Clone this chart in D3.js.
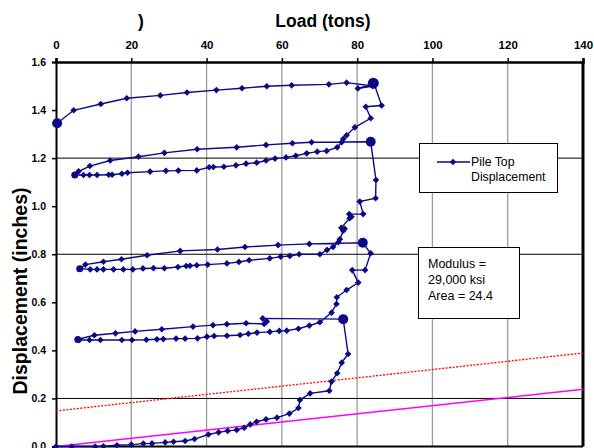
<!DOCTYPE html>
<html><head><meta charset="utf-8">
<script src="https://cdn.jsdelivr.net/npm/d3@7"></script>
<style>
html,body{margin:0;padding:0;background:#fff;}
svg{display:block;font-family:"Liberation Sans",Arial,sans-serif;}
</style></head>
<body>
<svg id="chart" width="594" height="448"></svg>
<script>
// ---- data ----
const xTicks = [0, 20, 40, 60, 80, 100, 120, 140];
const yTicks = [0.0, 0.2, 0.4, 0.6, 0.8, 1.0, 1.2, 1.4, 1.6];
const yGridDark = [0.2, 0.8, 1.2];
const xTitle = "Load (tons)";
const yTitle = "Displacement (inches)";
const legendLabel = ["Pile Top", "Displacement"];
const noteLines = ["Modulus =", "29,000 ksi", "Area = 24.4"];

// Pile top load (tons) and displacement (inches), in test order
const load = [
 0,4.2,10.4,12.6,16.2,20,23.2,25.5,29,31.2,34.3,36.8,40.5,43.2,45.6,48,50,51.6,53.3,55.8,58.7,62,64.4,64.8,67.5,72.6,73.2,74.7,75.9,77.6,76.3,
 54.9,56,55.3,50.5,45.4,41.7,36.4,28.1,21,15.8,10.2,5.8,
 6.2,8.9,11.8,17.5,20.2,24,26.8,28.5,31.9,34.3,37.6,40.1,42,45.4,48.9,51.1,53.4,56.8,59.3,61.3,64.4,67.3,70.1,73.2,74.5,74.6,77.2,80.3,78.7,82.1,83.6,81.5,
 67.3,59,50.2,42.9,33,24.2,17.4,12.6,7.8,6.4,
 9.1,10.9,12.6,15.3,17.9,20.4,23.1,25.9,28.8,32.4,34.6,35.6,37.4,40.3,45.4,48.6,51.3,56.8,59.7,62.1,64.6,70.1,72,73.6,75,75.4,76.3,76.7,75.8,78,78.5,77.9,81.6,80.7,84.9,85,83.6,
 67.9,62.8,55.8,48,37.5,28.8,21.9,14.4,9,6,4.9,
 7.3,8.9,10.9,14,14.9,17.5,19,25,29.2,32.5,37.4,40.7,41.8,44.6,47.8,50.5,53.3,55.8,58.2,61.1,63.7,66.6,69.4,71.9,74.7,75.9,76.3,77.2,79.4,83.6,82.3,86.5,84.5,80.2,84.2,77.2,
 72.5,62.6,56,49.4,42.6,34.8,27.7,18.8,11.9,4.7,0.3
];
const displacement = [
 0,0,0,0.001,0.005,0.008,0.012,0.013,0.017,0.02,0.023,0.031,0.05,0.059,0.065,0.069,0.078,0.092,0.103,0.113,0.12,0.137,0.16,0.194,0.221,0.232,0.27,0.305,0.349,0.385,0.53,
 0.533,0.52,0.51,0.513,0.509,0.505,0.499,0.488,0.479,0.471,0.463,0.446,
 0.443,0.443,0.443,0.443,0.443,0.444,0.446,0.447,0.449,0.449,0.45,0.457,0.46,0.461,0.464,0.469,0.474,0.477,0.481,0.482,0.49,0.503,0.517,0.557,0.593,0.621,0.651,0.682,0.734,0.734,0.804,0.848,
 0.843,0.838,0.83,0.82,0.814,0.796,0.779,0.769,0.757,0.74,
 0.737,0.737,0.737,0.737,0.737,0.737,0.741,0.742,0.742,0.747,0.751,0.752,0.754,0.757,0.762,0.768,0.775,0.783,0.79,0.793,0.8,0.8,0.818,0.83,0.85,0.862,0.898,0.906,0.91,0.95,0.956,0.967,0.967,1.019,1.033,1.109,1.268,
 1.266,1.262,1.255,1.245,1.237,1.222,1.206,1.19,1.167,1.145,1.13,
 1.13,1.13,1.13,1.131,1.131,1.135,1.139,1.144,1.147,1.148,1.149,1.162,1.163,1.164,1.17,1.177,1.181,1.19,1.198,1.203,1.21,1.22,1.227,1.23,1.245,1.266,1.28,1.295,1.328,1.366,1.414,1.419,1.51,1.49,1.5,1.514,
 1.507,1.503,1.499,1.491,1.483,1.473,1.461,1.449,1.425,1.399,1.345
];
// load-hold points (many readings at one spot)
const holdLoad = [76.3, 81.5, 83.6, 84.3, 0.3, 5.8, 6.3, 5.0];
const holdDisp = [0.53, 0.848, 1.268, 1.512, 1.345, 0.445, 0.74, 1.13];
const holdSize = [5, 5, 5, 5.5, 5, 3.5, 3.5, 3.5];

// reference lines: [load, displacement] end points
const offsetLine = [[0, 0.148], [140, 0.389]];
const elasticLine = [[0, 0.0], [140, 0.238]];

// ---- drawing ----
const svg = d3.select("#chart");
const x = d3.scaleLinear().domain([0, 140]).range([56, 583]);
const y = d3.scaleLinear().domain([0, 1.6]).range([446.5, 62]);
const navy = "#0a0a84";

svg.append("rect").attr("width", 594).attr("height", 448).attr("fill", "#fff");

// vertical grid
svg.append("g").selectAll("line").data(xTicks.filter(d => d > 0 && d < 140)).join("line")
  .attr("x1", d => x(d)).attr("x2", d => x(d)).attr("y1", y(1.6)).attr("y2", y(0))
  .attr("stroke", "#9a9a9a").attr("stroke-width", 1.3);
// horizontal grid
svg.append("g").selectAll("line").data(yGridDark).join("line")
  .attr("x1", x(0)).attr("x2", x(140)).attr("y1", d => y(d)).attr("y2", d => y(d))
  .attr("stroke", "#000").attr("stroke-width", 1);

// axes
const topAxis = svg.append("g").attr("transform", `translate(0,${y(1.6)})`)
  .call(d3.axisTop(x).tickValues(xTicks).tickSize(4).tickPadding(9).tickFormat(d3.format("d")));
topAxis.select(".domain").attr("stroke-width", 2.5);
topAxis.selectAll(".tick line").attr("stroke-width", 1.5);
topAxis.selectAll("text").attr("font-size", 11.5).attr("font-weight", "bold").attr("fill", "#000")
  .attr("font-family", "Liberation Sans, Arial, sans-serif");

const leftAxis = svg.append("g").attr("transform", `translate(${x(0)},0)`)
  .call(d3.axisLeft(y).tickValues(yTicks).tickSize(4).tickPadding(6).tickFormat(d3.format(".1f")));
leftAxis.select(".domain").attr("stroke-width", 2);
leftAxis.selectAll(".tick line").attr("stroke-width", 1.5);
leftAxis.selectAll("text").attr("font-size", 10.5).attr("font-weight", "bold").attr("fill", "#000")
  .attr("font-family", "Liberation Sans, Arial, sans-serif");

// bottom & right frame
svg.append("line").attr("x1", x(0)).attr("x2", x(140)).attr("y1", y(0)).attr("y2", y(0))
  .attr("stroke", "#000").attr("stroke-width", 2);
svg.append("line").attr("x1", x(140)).attr("x2", x(140)).attr("y1", y(1.6) - 1).attr("y2", y(0))
  .attr("stroke", "#000").attr("stroke-width", 3);

// reference lines
const ln = d3.line().x(d => x(d[0])).y(d => y(d[1]));
svg.append("path").attr("d", ln(offsetLine)).attr("fill", "none")
  .attr("stroke", "#ff0000").attr("stroke-width", 1.3).attr("stroke-dasharray", "2,1.5");
svg.append("path").attr("d", ln(elasticLine)).attr("fill", "none")
  .attr("stroke", "#ff00ff").attr("stroke-width", 1.6);

// data series
const pts = load.map((d, i) => [d, displacement[i]]);
svg.append("path").attr("d", ln(pts)).attr("fill", "none")
  .attr("stroke", navy).attr("stroke-width", 1.4);
const diamond = d3.symbol().type(d3.symbolSquare).size(22);
svg.append("g").selectAll("path").data(pts).join("path")
  .attr("d", diamond)
  .attr("transform", d => `translate(${x(d[0])},${y(d[1])}) rotate(45)`)
  .attr("fill", navy);
svg.append("g").selectAll("circle").data(holdLoad.map((d, i) => [d, holdDisp[i], holdSize[i]])).join("circle")
  .attr("cx", d => x(d[0])).attr("cy", d => y(d[1])).attr("r", d => d[2]).attr("fill", navy);

// legend
const lg = svg.append("g");
lg.append("rect").attr("x", 419.5).attr("y", 143.5).attr("width", 138).attr("height", 49)
  .attr("fill", "#fff").attr("stroke", "#000").attr("stroke-width", 1);
lg.append("line").attr("x1", 437).attr("x2", 470).attr("y1", 162).attr("y2", 162)
  .attr("stroke", navy).attr("stroke-width", 1.4);
lg.append("path").attr("d", diamond).attr("transform", "translate(453,162) rotate(45)").attr("fill", navy);
lg.selectAll("text").data(legendLabel).join("text")
  .attr("x", 471).attr("y", (d, i) => 166 + i * 14.5).text(d => d)
  .attr("font-size", 12.3).attr("fill", "#000");

// note box
const nb = svg.append("g");
nb.append("rect").attr("x", 418.5).attr("y", 247.5).attr("width", 101).attr("height", 71)
  .attr("fill", "#fff").attr("stroke", "#000").attr("stroke-width", 1);
nb.selectAll("text").data(noteLines).join("text")
  .attr("x", 428).attr("y", (d, i) => 268 + i * 16).text(d => d)
  .attr("font-size", 12.5).attr("fill", "#000");

// titles
svg.append("text").attr("x", 323).attr("y", 27).attr("text-anchor", "middle")
  .attr("font-size", 17.5).attr("font-weight", "bold").text(xTitle);
svg.append("text").attr("x", 141).attr("y", 27).attr("text-anchor", "middle")
  .attr("font-size", 17.5).attr("font-weight", "bold").text(")");
svg.append("text").attr("transform", "translate(27,291) rotate(-90)").attr("text-anchor", "middle")
  .attr("font-size", 19.5).attr("font-weight", "bold").text(yTitle);
</script>
</body></html>
